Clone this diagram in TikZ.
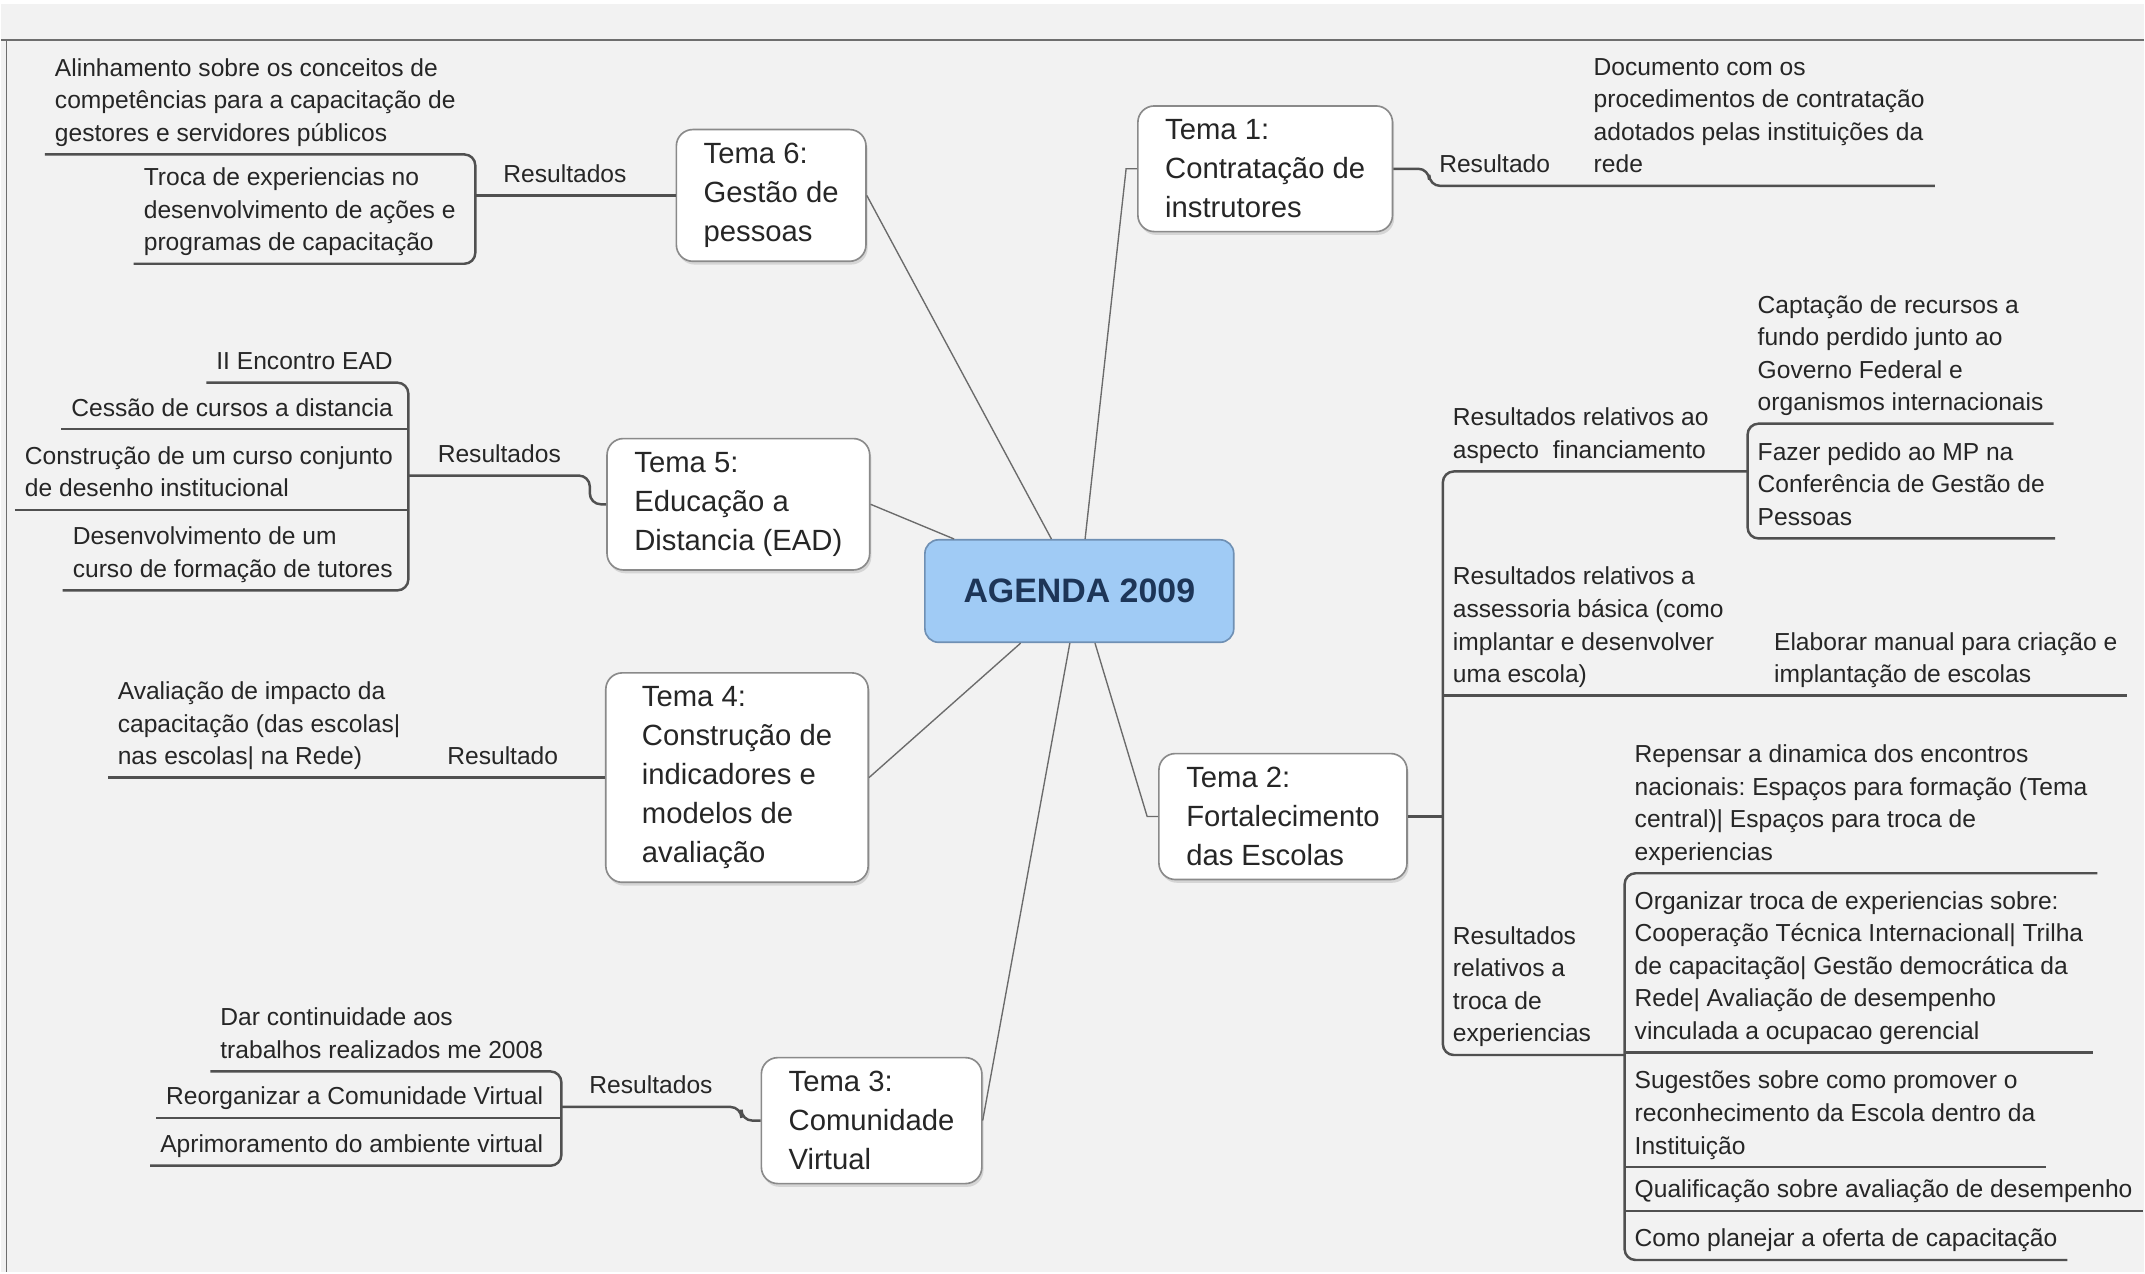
\documentclass[tikz,border=0pt]{standalone}
\usepackage{fontspec}
\setmainfont{Liberation Sans}
\frenchspacing
\usetikzlibrary{shadows}
\definecolor{bgcol}{HTML}{F2F2F2}
\definecolor{framecol}{HTML}{6E6E6E}
\definecolor{linkgray}{HTML}{6B6B6B}
\definecolor{ulinegray}{HTML}{505050}
\definecolor{textgray}{HTML}{262626}
\definecolor{temaedge}{HTML}{8A8A8A}
\definecolor{agendablue}{HTML}{A0CBF5}
\definecolor{agendaedge}{HTML}{6F90B4}
\definecolor{agendatext}{HTML}{1D3557}
\newcommand\TemaFont{\fontsize{10.7}{14.25}\selectfont}
\newcommand\TopicFont{\fontsize{9}{11.9}\selectfont}
\tikzset{
    agenda/.style={draw=agendaedge, line width=0.6pt, fill=agendablue, rounded corners=5pt,
        minimum width=113pt, minimum height=37.5pt, text=agendatext,
        font=\bfseries\fontsize{12.4}{14}\selectfont},
    tema/.style={draw=temaedge, line width=0.6pt, fill=white, rounded corners=6pt,
        align=left, font=\TemaFont, text=textgray, inner xsep=10pt, inner ysep=5pt,
        drop shadow={shadow xshift=0.6pt, shadow yshift=-1.2pt, opacity=0.25}},
    topic/.style={font=\TopicFont, text=textgray, align=left, inner xsep=3.5pt,
        inner ysep=1pt, execute at end node=\strut},
    branch/.style={draw=linkgray, line width=0.5pt},
    uline/.style={draw=ulinegray, line width=0.9pt, rounded corners=4pt},
}

\begin{document}
\begin{tikzpicture}[x=0.5pt,y=-0.5pt]
    % fundo
    \fill[bgcol] (0,0) rectangle (1568,931);
    \fill[white] (0,0) rectangle (1568,3);
    \draw[framecol, line width=0.8pt] (0,29) -- (1568,29);
    \draw[framecol, line width=0.6pt] (4,29) -- (4,931);
    \useasboundingbox (0,0) rectangle (1568,931);

    \node[agenda] (agenda) at (789,432.5) {AGENDA 2009};
    \node[tema] (tema1) at (925,123.5) {Tema 1:\\Contratação de\\instrutores};
    \node[tema] (tema2) at (938,597.5) {Tema 2:\\Fortalecimento\\das Escolas};
    \node[tema] (tema3) at (637,820) {Tema 3:\\Comunidade\\Virtual};
    \node[tema, minimum width=96pt] (tema4) at (538.5,569) {Tema 4:\\Construção de\\indicadores e\\modelos de\\avaliação};
    \node[tema] (tema5) at (539.5,369) {Tema 5:\\Educação a\\Distancia (EAD)};
    \node[tema] (tema6) at (563.5,143) {Tema 6:\\Gestão de\\pessoas};

    \draw[branch] (agenda) -- ([xshift=-4pt]tema1.west) -- (tema1.west);
    \draw[branch] (agenda) -- ([xshift=-4pt]tema2.west) -- (tema2.west);
    \draw[branch] (agenda) -- (tema3.east);
    \draw[branch] (agenda) -- (tema4.east);
    \draw[branch] (agenda) -- (tema5.east);
    \draw[branch] (agenda) -- (tema6.east);

    % Tema 1
    \node[topic, anchor=south west] (res1) at (1045,136) {Resultado};
    \node[topic, anchor=south west] (doc) at (1158,136) {Documento com os\\procedimentos de contratação\\adotados pelas instituições da\\rede};
    \draw[uline] (tema1.east) -| (res1.south west) -- (doc.south east);

    % Tema 2
    \node[topic, anchor=south west] (fin) at (1055,345) {Resultados relativos ao\\aspecto\ \ financiamento};
    \node[topic, anchor=south west] (capt) at (1278,310) {Captação de recursos a\\fundo perdido junto ao\\Governo Federal e\\organismos internacionais};
    \node[topic, anchor=south west] (pedido) at (1278,394) {Fazer pedido ao MP na\\Conferência de Gestão de\\Pessoas};
    \node[topic, anchor=south west] (asses) at (1055,509) {Resultados relativos a\\assessoria básica (como\\implantar e desenvolver\\uma escola)};
    \node[topic, anchor=south west] (manual) at (1290,509) {Elaborar manual para criação e\\implantação de escolas};
    \node[topic, anchor=south west] (troca) at (1055,772) {Resultados\\relativos a\\troca de\\experiencias};
    \node[topic, anchor=south west] (repensar) at (1188,639) {Repensar a dinamica dos encontros\\nacionais: Espaços para formação (Tema\\central)| Espaços para troca de\\experiencias};
    \node[topic, anchor=south west] (organizar) at (1188,770) {Organizar troca de experiencias sobre:\\Cooperação Técnica Internacional| Trilha\\de capacitação| Gestão democrática da\\Rede| Avaliação de desempenho\\vinculada a ocupacao gerencial};
    \node[topic, anchor=south west] (sugest) at (1188,854) {Sugestões sobre como promover o\\reconhecimento da Escola dentro da\\Instituição};
    \node[topic, anchor=south west] (qualif) at (1188,886) {Qualificação sobre avaliação de desempenho};
    \node[topic, anchor=south west] (planejar) at (1188,922) {Como planejar a oferta de capacitação};
    \draw[uline] (tema2.east) -- (tema2.east -| fin.south west);
    \draw[uline] (capt.south west |- fin.south) -- (fin.south west) -- (troca.south west) -- (repensar.south west |- troca.south);
    \draw[uline] (asses.south west) -- (manual.south east);
    \draw[uline] (capt.south east) -- (capt.south west) -- (pedido.south west) -- (pedido.south east);
    \draw[uline] (repensar.south east) -- (repensar.south west) -- (planejar.south west) -- (planejar.south east);
    \draw[uline] (organizar.south west) -- (organizar.south east);
    \draw[uline] (sugest.south west) -- (sugest.south east);
    \draw[uline] (qualif.south west) -- (qualif.south east);

    % Tema 3
    \coordinate (trunk3) at (410,810);
    \node[topic, anchor=south east] (res3) at (528,810) {Resultados};
    \node[topic, anchor=south east] (dar) at (404,784) {Dar continuidade aos\\trabalhos realizados me 2008};
    \node[topic, anchor=south east] (reorg) at (404,818) {Reorganizar a Comunidade Virtual};
    \node[topic, anchor=south east] (aprim) at (404,853) {Aprimoramento do ambiente virtual};
    \draw[uline] (tema3.west) -- ++(-7pt,0) |- (trunk3);
    \draw[uline] (dar.south west) -- (trunk3 |- dar.south) -- (trunk3 |- aprim.south) -- (aprim.south west);
    \draw[uline] (reorg.south west) -- (trunk3 |- reorg.south);

    % Tema 4
    \node[topic, anchor=south west] (aval) at (78,569) {Avaliação de impacto da\\capacitação (das escolas|\\nas escolas| na Rede)};
    \node[topic, anchor=south east] (res4) at (415,569) {Resultado};
    \draw[uline] (tema4.west) -- (aval.south west);

    % Tema 5
    \coordinate (trunk5) at (298,348);
    \node[topic, anchor=south east] (res5) at (417,348) {Resultados};
    \node[topic, anchor=south east] (enc) at (294,280) {II Encontro EAD};
    \node[topic, anchor=south east] (cess) at (294,314) {Cessão de cursos a distancia};
    \node[topic, anchor=south east] (constr) at (294,373) {Construção de um curso conjunto\\de desenho institucional};
    \node[topic, anchor=south east] (desenv) at (294,432) {Desenvolvimento de um\\curso de formação de tutores};
    \draw[uline] (tema5.west) -- ++(-6pt,0) |- (trunk5);
    \draw[uline] (enc.south west) -- (trunk5 |- enc.south) -- (trunk5 |- desenv.south) -- (desenv.south west);
    \draw[uline] (cess.south west) -- (trunk5 |- cess.south);
    \draw[uline] (constr.south west) -- (trunk5 |- constr.south);

    % Tema 6
    \coordinate (trunk6) at (347,143);
    \node[topic, anchor=south east] (res6) at (465,143) {Resultados};
    \node[topic, anchor=south east] (alinh) at (340,113) {Alinhamento sobre os conceitos de\\competências para a capacitação de\\gestores e servidores públicos};
    \node[topic, anchor=south east] (trocaexp) at (340,193) {Troca de experiencias no\\desenvolvimento de ações e\\programas de capacitação};
    \draw[uline] (tema6.west) -- (trunk6);
    \draw[uline] (alinh.south west) -- (trunk6 |- alinh.south) -- (trunk6 |- trocaexp.south) -- (trocaexp.south west);
\end{tikzpicture}
\end{document}
